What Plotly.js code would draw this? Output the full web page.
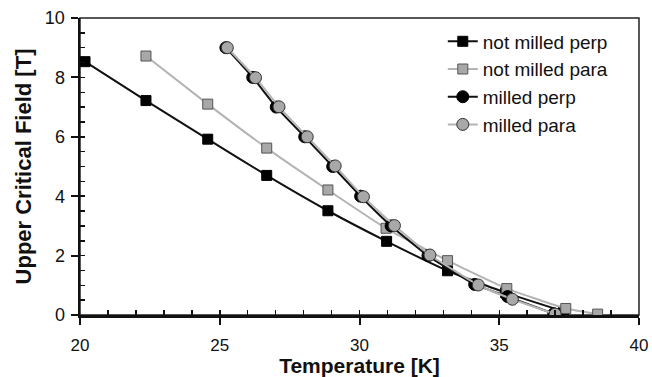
<!DOCTYPE html>
<html><head><meta charset="utf-8">
<script src="https://cdn.plot.ly/plotly-3.0.1.min.js"></script>
<style>html,body{margin:0;padding:0;background:#fff}#c{width:652px;height:377px}</style>
</head><body><div id="c"></div>
<script>
var nmPerpT = [20.18, 22.36, 24.57, 26.68, 28.87, 30.97, 33.15, 35.23, 37.3];
var nmPerpB = [8.53, 7.22, 5.92, 4.70, 3.51, 2.48, 1.49, 0.75, 0.12];
var nmParaT = [22.36, 24.57, 26.68, 28.87, 30.95, 33.15, 35.27, 37.38, 38.52];
var nmParaB = [8.72, 7.10, 5.62, 4.21, 2.92, 1.83, 0.89, 0.22, 0.03];
var mPerpT = [25.22, 26.18, 27.02, 28.04, 29.04, 30.04, 31.13, 32.45, 34.12, 35.3, 36.95];
var mPerpB = [9.0, 8.0, 7.0, 6.0, 5.0, 4.0, 3.0, 2.0, 1.03, 0.62, 0.04];
var mParaT = [25.27, 26.28, 27.12, 28.13, 29.13, 30.14, 31.25, 32.52, 34.25, 35.47, 37.0];
var mParaB = [9.0, 7.99, 7.01, 6.0, 5.02, 3.98, 3.01, 2.02, 1.01, 0.53, 0.03];
var names = ['not milled perp', 'not milled para', 'milled perp', 'milled para'];

var FONT = 'Liberation Sans, Arial, sans-serif';
var traces = [
  {x: nmPerpT, y: nmPerpB, name: names[0], mode: 'lines+markers',
   line: {color: '#111111', width: 2, shape: 'spline', smoothing: 0.4},
   marker: {symbol: 'square', size: 10, color: '#000000', line: {color: '#000000', width: 1}}},
  {x: nmParaT, y: nmParaB, name: names[1], mode: 'lines+markers',
   line: {color: '#b4b4b4', width: 2, shape: 'spline', smoothing: 0.4},
   marker: {symbol: 'square', size: 10, color: '#a8a8a8', line: {color: '#555555', width: 1}}},
  {x: mPerpT, y: mPerpB, name: names[2], mode: 'lines+markers',
   line: {color: '#111111', width: 2, shape: 'spline', smoothing: 0.4},
   marker: {symbol: 'circle', size: 12, color: '#000000', line: {color: '#000000', width: 1}}},
  {x: mParaT, y: mParaB, name: names[3], mode: 'lines+markers',
   line: {color: '#b4b4b4', width: 2, shape: 'spline', smoothing: 0.4},
   marker: {symbol: 'circle', size: 12, color: '#a8a8a8', line: {color: '#333333', width: 1}}},
  {x: [20], y: [0], xaxis: 'x2', yaxis: 'y2', mode: 'markers', showlegend: false,
   hoverinfo: 'skip', marker: {opacity: 0}}
];

var layout = {
  width: 652, height: 377,
  margin: {l: 80, r: 13, t: 18, b: 62},
  paper_bgcolor: '#ffffff', plot_bgcolor: '#ffffff',
  font: {family: FONT, size: 18, color: '#111111'},
  showlegend: true,
  legend: {x: 0.649, y: 0.985, xanchor: 'left', yanchor: 'top',
    font: {family: FONT, size: 19, color: '#111111'}, bgcolor: 'rgba(0,0,0,0)',
    tracegroupgap: 0, itemwidth: 30},
  xaxis: {range: [20, 40], dtick: 5, tick0: 20, showgrid: false, zeroline: false,
    showline: true, linecolor: '#111111', linewidth: 2.5,
    ticks: 'outside', ticklen: 7, tickwidth: 2, tickcolor: '#111111', ticklabelstandoff: 6,
    tickfont: {family: FONT, size: 17, color: '#111111'},
    title: {text: '<b>Temperature [K]</b>', standoff: 4, font: {family: FONT, size: 21, color: '#111111'}}},
  yaxis: {range: [0, 10], dtick: 2, tick0: 0, showgrid: false, zeroline: false,
    showline: true, linecolor: '#111111', linewidth: 2.5,
    ticks: 'outside', ticklen: 7, tickwidth: 2, tickcolor: '#111111', ticklabelstandoff: 2,
    tickfont: {family: FONT, size: 18, color: '#111111'},
    title: {text: '<b>Upper Critical Field [T]</b>', standoff: 7, font: {family: FONT, size: 22, color: '#111111'}}},
  xaxis2: {overlaying: 'x', matches: 'x', range: [20, 40], dtick: 1, tick0: 20, showgrid: false,
    zeroline: false, showline: false, showticklabels: false,
    ticks: 'inside', ticklen: 5, tickwidth: 1.5, tickcolor: '#111111'},
  yaxis2: {overlaying: 'y', matches: 'y', range: [0, 10], dtick: 0.5, tick0: 0, showgrid: false,
    zeroline: false, showline: false, showticklabels: false,
    ticks: 'inside', ticklen: 5, tickwidth: 1.5, tickcolor: '#111111'},
  shapes: [
    {type: 'rect', xref: 'paper', yref: 'paper', x0: 0, x1: 1, y0: 0, y1: 1,
     line: {color: '#222222', width: 1.5}, layer: 'below'}
  ]
};
Plotly.newPlot('c', traces, layout, {displayModeBar: false, staticPlot: true});
</script></body></html>
